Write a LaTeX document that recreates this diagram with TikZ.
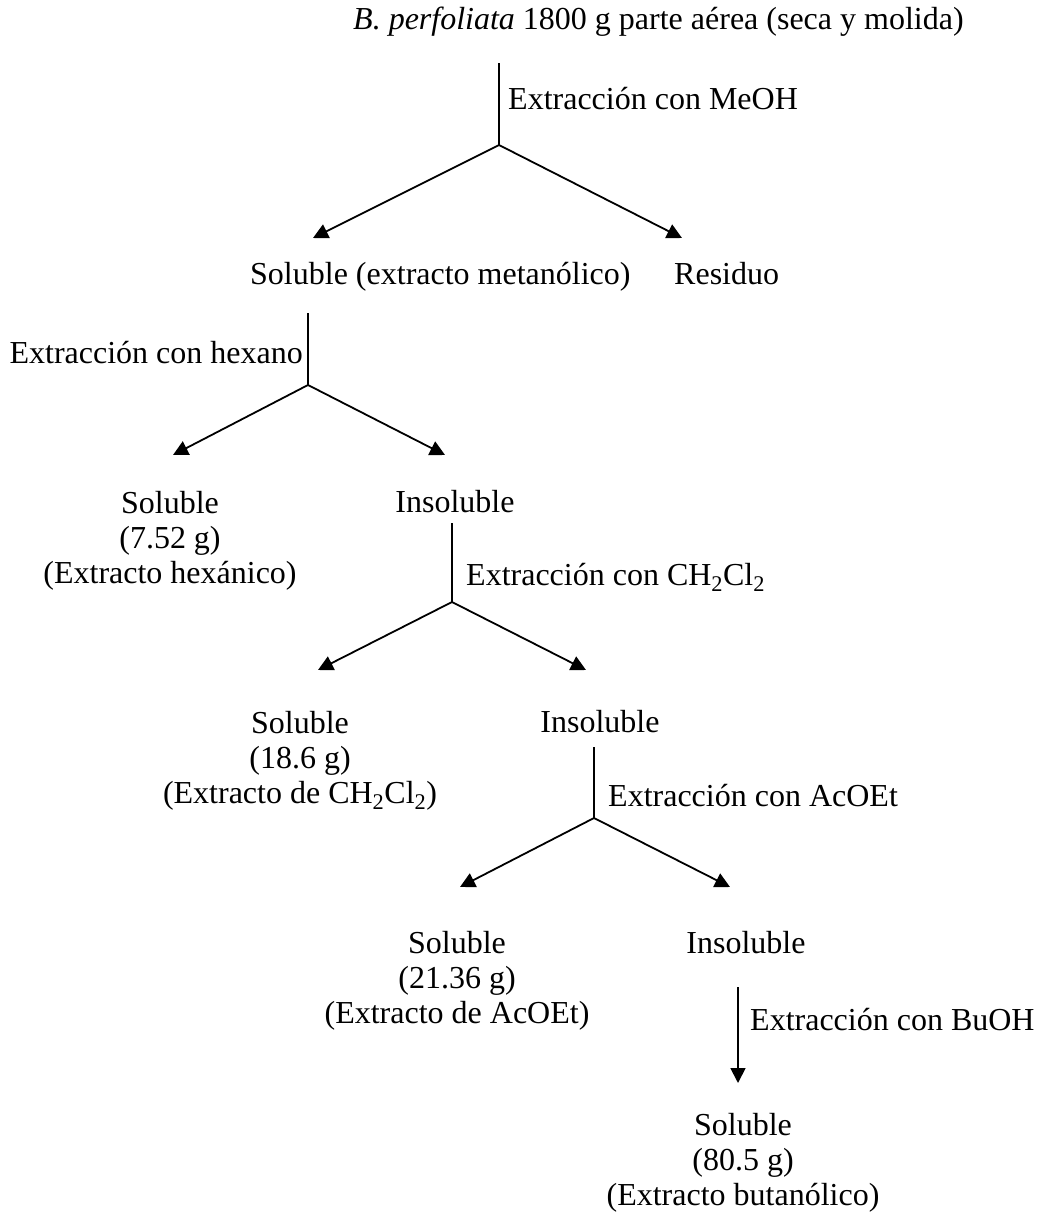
\documentclass[tikz,border=0pt]{standalone}
\usepackage{fontspec}
\setmainfont{Liberation Serif}
\usetikzlibrary{arrows.meta}

\tikzset{
	txt/.style={anchor=base,inner sep=0pt,font=\fontsize{32}{35}\selectfont},
	bloque/.style={txt,align=center},
	tallo/.style={line width=1.8pt},
	flecha/.style={line width=1.8pt,-{Triangle[length=15pt,width=15pt]}},
}

\begin{document}
\begin{tikzpicture}[x=1pt,y=-1pt]
	\useasboundingbox (0,0) rectangle (1043,1219);
	% textos (los bloques de tres lineas van por la base de la ultima linea)
	\node[txt,anchor=base west] (planta) at (353,29) {\textit{B. perfoliata} 1800 g parte aérea (seca y molida)};
	\node[txt,anchor=base west] (metanol) at (250,284) {Soluble (extracto metanólico)};
	\node[txt,anchor=base west] (residuo) at (674,284) {Residuo};
	\node[bloque] (hexanico) at (170,583) {Soluble\\(7.52 g)\\(Extracto hexánico)};
	\node[txt] (ins1) at (455,512) {Insoluble};
	\node[bloque] (diclo) at (300,803) {Soluble\\(18.6 g)\\(Extracto de CH\textsubscript{2}Cl\textsubscript{2})};
	\node[txt] (ins2) at (600,732) {Insoluble};
	\node[bloque] (acoet) at (457,1023) {Soluble\\(21.36 g)\\(Extracto de AcOEt)};
	\node[txt] (ins3) at (746,953) {Insoluble};
	\node[bloque] (butanol) at (743,1205) {Soluble\\(80.5 g)\\(Extracto butanólico)};
	% tallos y ramas
	\coordinate (s1) at (499,63);  \coordinate (b1) at (499,145);
	\coordinate (s2) at (308,313); \coordinate (b2) at (308,385);
	\coordinate (s3) at (452,523); \coordinate (b3) at (452,602);
	\coordinate (s4) at (594,747); \coordinate (b4) at (594,818);
	\coordinate (s5) at (738,987); \coordinate (b5) at (738,1083);
	\coordinate (l1) at (313,238); \coordinate (r1) at (682,238);
	\coordinate (l2) at (173,455); \coordinate (r2) at (445,455);
	\coordinate (l3) at (318,670); \coordinate (r3) at (586,670);
	\coordinate (l4) at (460,887); \coordinate (r4) at (730,887);
	\foreach \i in {1,2,3,4}{
		\draw[tallo] (s\i) -- (b\i);
		\draw[flecha] (b\i) -- (l\i);
		\draw[flecha] (b\i) -- (r\i);
	}
	\draw[flecha] (s5) -- (b5);
	% etiquetas de extraccion
	\node[txt,anchor=base west] (meoh) at (508,109) {Extracción con MeOH};
	\node[txt,anchor=base east] (hexano) at (303,363) {Extracción con hexano};
	\node[txt,anchor=base west] (dcm) at (466,585) {Extracción con CH\textsubscript{2}Cl\textsubscript{2}};
	\node[txt,anchor=base west] (acetato) at (608,806) {Extracción con AcOEt};
	\node[txt,anchor=base west] (buoh) at (750,1030) {Extracción con BuOH};
\end{tikzpicture}
\end{document}
